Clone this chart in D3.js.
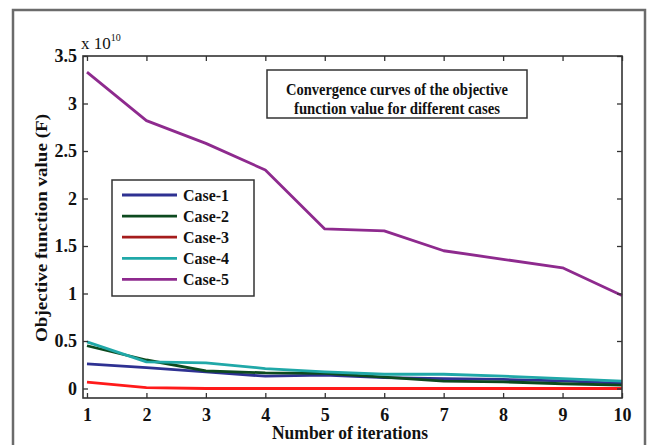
<!DOCTYPE html>
<html><head><meta charset="utf-8">
<script src="https://cdn.jsdelivr.net/npm/d3@7"></script>
<style>body{margin:0;background:#fff}svg{display:block}text{font-family:"Liberation Serif","DejaVu Serif",serif;font-weight:bold;fill:#111}</style>
</head><body><svg id="c" width="650" height="445"></svg>
<script>
const iterations = [1,2,3,4,5,6,7,8,9,10];
const case1 = [0.26,0.22,0.175,0.13,0.14,0.115,0.105,0.095,0.08,0.055];
const case2 = [0.45,0.30,0.185,0.165,0.16,0.12,0.077,0.07,0.05,0.035];
const case3 = [0.066,0.01,0,0,0,0,0,0,0,0];
const case4 = [0.49,0.28,0.27,0.21,0.175,0.15,0.15,0.13,0.105,0.077];
const case5 = [3.33,2.82,2.58,2.30,1.68,1.66,1.45,1.36,1.27,0.98];
const seriesNames = ["Case-1","Case-2","Case-3","Case-4","Case-5"];
const seriesValues = [case1,case2,case3,case4,case5];
const lineColors = ["#2e3192","#0d4a1f","#ff1a1a","#20a8a8","#8e2a8e"];
const legendColors = ["#2e3192","#0d4a1f","#a51c1c","#20a8a8","#8e2a8e"];
const yTicks = [0,0.5,1,1.5,2,2.5,3,3.5];
const yTickLabels = ["0","0.5","1","1.5","2","2.5","3","3.5"];
const titleLines = ["Convergence curves of the objective","function value for different cases"];

const svg = d3.select("#c");
svg.append("rect").attr("x",13).attr("y",10).attr("width",632).attr("height",445)
  .attr("fill","none").attr("stroke","#6b6b6b").attr("stroke-width",2.5);

const L=83,R=622,T=56,B=398;
const x = d3.scaleLinear().domain([0.933,10]).range([L,R]);
const y = d3.scaleLinear().domain([-0.1,3.5]).range([B,T]);

const line = d3.line().x((d,i)=>x(iterations[i])).y(d=>y(d));
const order=[2,0,1,3,4];
order.forEach(k=>{
  svg.append("path").datum(seriesValues[k]).attr("d",line)
    .attr("fill","none").attr("stroke",lineColors[k]).attr("stroke-width",2.8)
    .attr("stroke-linejoin","round");
});

svg.append("rect").attr("x",L).attr("y",T).attr("width",R-L).attr("height",B-T)
  .attr("fill","none").attr("stroke","#333").attr("stroke-width",1.6);

const gx = svg.append("g").attr("transform",`translate(0,${B})`)
  .call(d3.axisBottom(x).tickValues(iterations).tickSize(-5).tickPadding(10).tickFormat(d3.format("d")));
const gxt = svg.append("g").attr("transform",`translate(0,${T})`)
  .call(d3.axisTop(x).tickValues(iterations).tickSize(-5).tickFormat(""));
const gy = svg.append("g").attr("transform",`translate(${L},0)`)
  .call(d3.axisLeft(y).tickValues(yTicks).tickSize(-5).tickPadding(6).tickFormat((d,i)=>yTickLabels[i]));
const gyr = svg.append("g").attr("transform",`translate(${R},0)`)
  .call(d3.axisRight(y).tickValues(yTicks).tickSize(-5).tickFormat(""));
[gx,gxt,gy,gyr].forEach(g=>{
  g.select(".domain").remove();
  g.selectAll(".tick line").attr("stroke","#333").attr("stroke-width",1.3);
  g.selectAll("text").attr("font-size",18).style("font-size","18px").style("font-family","'Liberation Serif',serif").style("font-weight","bold").attr("fill","#111");
});
gx.selectAll("text").attr("dy","0.71em");

const ex = svg.append("text").attr("x",81).attr("y",49).style("font-size","17px").style("font-weight","normal");
ex.append("tspan").text("x 10");
ex.append("tspan").attr("dy",-8).style("font-size","10px").text("10");

svg.append("text").attr("x",350).attr("y",439).attr("text-anchor","middle")
  .style("font-size","18px").attr("textLength",156).attr("lengthAdjust","spacingAndGlyphs").text("Number of iterations");
svg.append("text").attr("transform","translate(47,228) rotate(-90)").attr("text-anchor","middle")
  .style("font-size","17.5px").attr("textLength",228).attr("lengthAdjust","spacingAndGlyphs").text("Objective function value (F)");

svg.append("rect").attr("x",267).attr("y",70).attr("width",260).attr("height",48)
  .attr("fill","#fff").attr("stroke","#333").attr("stroke-width",1.5);
titleLines.forEach((t,i)=>{
  svg.append("text").attr("x",397).attr("y",95+i*19).attr("text-anchor","middle")
    .style("font-size","16px").attr("textLength",i===0?222:206).attr("lengthAdjust","spacingAndGlyphs").text(t);
});

svg.append("rect").attr("x",112).attr("y",180).attr("width",142).attr("height",116)
  .attr("fill","#fff").attr("stroke","#333").attr("stroke-width",1.5);
seriesNames.forEach((n,i)=>{
  const yy = 195 + i*21.1;
  svg.append("line").attr("x1",122).attr("x2",177).attr("y1",yy).attr("y2",yy)
    .attr("stroke",legendColors[i]).attr("stroke-width",2.8);
  svg.append("text").attr("x",183).attr("y",yy+6).style("font-size","16.5px").attr("textLength",46).attr("lengthAdjust","spacingAndGlyphs").text(n);
});
</script></body></html>
